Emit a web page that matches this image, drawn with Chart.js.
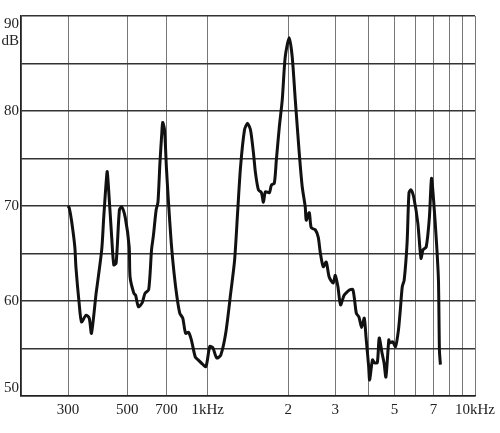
<!DOCTYPE html>
<html>
<head>
<meta charset="utf-8">
<script src="https://cdn.jsdelivr.net/npm/chart.js@4/dist/chart.umd.min.js"></script>
<style>
  html, body { margin: 0; padding: 0; background: #fff; }
  #wrap { width: 500px; height: 433px; }
</style>
</head>
<body>
<div id="wrap"><canvas id="chart" width="500" height="433"></canvas></div>
<script>
// frequency (Hz) and level (dB)
const freqs = [300, 303, 309, 318, 321, 330, 337, 350, 360, 367, 382, 385, 401, 408, 420, 424, 437, 445, 454, 467,
  476, 491, 508, 512, 529, 537, 550, 568, 582, 601, 616, 626, 641, 651, 662, 673, 678, 689, 700, 712,
  730, 748, 767, 786, 806, 826, 847, 868, 898, 920, 944, 984, 1017, 1044, 1080, 1118, 1167, 1218, 1260, 1293,
  1326, 1372, 1408, 1445, 1482, 1508, 1547, 1588, 1615, 1643, 1700, 1730, 1774, 1805, 1852, 1900, 1949, 2017, 2070, 2125,
  2199, 2257, 2316, 2336, 2397, 2439, 2525, 2591, 2636, 2705, 2775, 2848, 2948, 3000, 3069, 3139, 3236, 3335, 3412, 3490,
  3543, 3598, 3680, 3765, 3851, 3910, 4000, 4033, 4134, 4203, 4309, 4380, 4490, 4566, 4641, 4758, 4797, 4918, 5042, 5168,
  5255, 5343, 5432, 5569, 5662, 5757, 5901, 6110, 6278, 6393, 6569, 6750, 6874, 7000, 7178, 7298, 7360, 7422];
const levels = [70.0, 69.8, 68.5, 65.7, 63.6, 59.8, 57.8, 58.5, 58.2, 56.6, 60.8, 61.5, 65.4, 68.8, 73.6, 72.4, 66.7, 63.8, 64.0, 69.6,
  69.9, 68.8, 65.7, 62.5, 60.8, 60.6, 59.4, 59.8, 60.8, 61.2, 65.4, 66.9, 69.6, 70.4, 74.5, 77.7, 78.8, 78.0, 74.1, 70.6,
  66.1, 62.9, 60.4, 58.7, 58.2, 56.6, 56.7, 55.9, 54.1, 53.8, 53.5, 53.1, 55.2, 55.1, 54.0, 54.3, 56.6, 60.8, 64.3, 69.3,
  74.1, 78.0, 78.7, 78.0, 75.6, 73.5, 71.7, 71.4, 70.4, 71.5, 71.4, 72.2, 72.4, 74.8, 78.3, 81.2, 85.7, 87.7, 85.7, 81.2,
  75.6, 72.0, 69.9, 68.5, 69.3, 67.7, 67.5, 66.7, 65.1, 63.6, 64.1, 62.5, 61.9, 62.7, 61.5, 59.6, 60.6, 61.0, 61.2, 61.2,
  60.1, 58.7, 58.3, 57.2, 58.2, 56.2, 53.1, 51.7, 53.8, 53.5, 53.5, 56.1, 54.5, 53.5, 52.0, 55.9, 55.6, 55.7, 55.2, 56.9,
  59.1, 61.5, 62.2, 66.1, 71.4, 71.7, 70.9, 68.2, 64.5, 65.4, 65.7, 68.8, 72.9, 70.6, 66.1, 62.2, 54.8, 53.3];

// axis grid and labels
const xGrid = [200, 300, 500, 700, 1000, 2000, 3000, 4000, 5000, 6000, 7000, 8000, 9000, 10000];
const xLabels = { 300: '300', 500: '500', 700: '700', 1000: '1kHz', 2000: '2', 3000: '3', 5000: '5', 7000: '7', 10000: '10kHz' };
const yLabels = [90, 80, 70, 60, 50];
const yUnit = 'dB';

const serif = '"Liberation Serif", "DejaVu Serif", serif';

// draws the y labels ("90", "dB" ... "50") left of the frame
const yLabelPlugin = {
  id: 'yLabels',
  afterDraw(chart) {
    const ctx = chart.ctx;
    const y = chart.scales.y;
    const left = chart.chartArea.left;
    ctx.save();
    ctx.font = '15px ' + serif;
    ctx.fillStyle = '#222';
    ctx.textAlign = 'right';
    ctx.textBaseline = 'middle';
    yLabels.forEach(v => {
      let py = y.getPixelForValue(v);
      if (v === y.max) py += 8;
      if (v === y.min) py -= 8;
      ctx.fillText(String(v), left - 2, py);
      if (v === y.max) ctx.fillText(yUnit, left - 2, py + 17);
    });
    ctx.restore();
  }
};

new Chart(document.getElementById('chart'), {
  type: 'line',
  data: {
    datasets: [{
      data: freqs.map((f, i) => ({ x: f, y: levels[i] })),
      borderColor: '#111',
      borderWidth: 3,
      pointRadius: 0,
      tension: 0.25,
      fill: false
    }]
  },
  plugins: [yLabelPlugin],
  options: {
    responsive: false,
    animation: false,
    layout: { padding: { left: 0, top: 16, right: 23, bottom: 0 } },
    plugins: { legend: { display: false }, tooltip: { enabled: false } },
    scales: {
      x: {
        type: 'logarithmic',
        min: 200,
        max: 10000,
        afterBuildTicks: scale => { scale.ticks = xGrid.map(v => ({ value: v })); },
        afterFit: scale => { scale.height = 37; },
        grid: { color: '#777', lineWidth: 1, drawTicks: false },
        border: { color: '#222', width: 1.5 },
        ticks: {
          autoSkip: false,
          maxRotation: 0,
          padding: 5,
          color: '#222',
          font: { family: serif, size: 15 },
          callback: v => xLabels[v] || ''
        }
      },
      y: {
        min: 50,
        max: 90,
        afterFit: scale => { scale.width = 21; },
        grid: { color: '#333', lineWidth: 1.5, drawTicks: false },
        border: { color: '#222', width: 1.5 },
        ticks: { stepSize: 5, display: false }
      }
    }
  }
});
</script>
</body>
</html>
